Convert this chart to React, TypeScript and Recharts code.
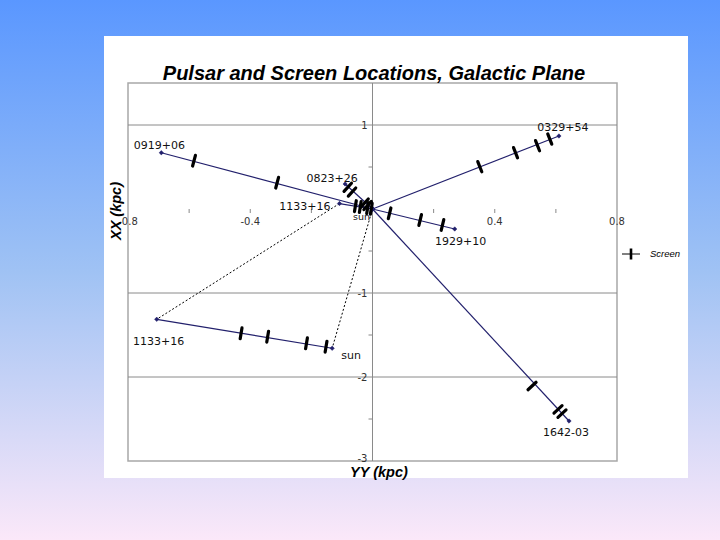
import React from "react";
import {
  ScatterChart,
  Scatter,
  XAxis,
  YAxis,
  ReferenceLine,
  ReferenceArea,
  ReferenceDot,
} from "recharts";

// ---------- data ----------
const sun = { x: 0, y: 0 };

const pulsarNames = ["0919+06", "0823+26", "1133+16", "0329+54", "1929+10", "1642-03"];
const pulsarX = [-0.691, -0.0895, -0.108, 0.61, 0.269, 0.643];
const pulsarY = [0.67, 0.298, 0.065, 0.869, -0.238, -2.524];

const screens0919 = [
  { x: -0.584, y: 0.575 },
  { x: -0.312, y: 0.313 },
];
const screens0823 = [
  { x: -0.081, y: 0.258 },
  { x: -0.067, y: 0.202 },
  { x: -0.026, y: 0.071 },
  { x: -0.016, y: 0.042 },
];
const screens1133 = [
  { x: -0.056, y: 0.034 },
  { x: -0.04, y: 0.024 },
  { x: -0.016, y: 0.01 },
  { x: -0.004, y: 0.002 },
];
const screens0329 = [
  { x: 0.351, y: 0.504 },
  { x: 0.468, y: 0.67 },
  { x: 0.54, y: 0.754 },
  { x: 0.58, y: 0.833 },
];
const screens1929 = [
  { x: 0.056, y: -0.051 },
  { x: 0.156, y: -0.131 },
  { x: 0.229, y: -0.19 },
];
const screens1642 = [
  { x: 0.522, y: -2.107 },
  { x: 0.607, y: -2.385 },
  { x: 0.62, y: -2.436 },
];
const screensByPulsar = [screens0919, screens0823, screens1133, screens0329, screens1929, screens1642];

// enlarged view of the 1133+16 sight line
const insetPulsar = { x: -0.706, y: -1.313 };
const insetSun = { x: -0.132, y: -1.658 };
const insetScreens = [
  { x: -0.43, y: -1.48 },
  { x: -0.343, y: -1.52 },
  { x: -0.216, y: -1.599 },
  { x: -0.152, y: -1.639 },
];

const xTicks = [-0.8, -0.4, 0.4, 0.8];
const xMinorTicks = [-0.6, -0.4, -0.2, 0.2, 0.4, 0.6];
const yTicks = [1, -1, -2, -3];
const yMinorTicks = [0.5, -0.5, -1.5, -2.5];
const yGrid = [1, -1, -2];
const X_DOMAIN: [number, number] = [-0.8, 0.8];
const Y_DOMAIN: [number, number] = [-3, 1.5];

// ---------- layout / style ----------
const CHART_W = 584;
const CHART_H = 442;
const MARGIN = { top: 47, right: 71, bottom: 17, left: 24 };
const PLOT_W = CHART_W - MARGIN.left - MARGIN.right;
const PLOT_H = CHART_H - MARGIN.top - MARGIN.bottom;
const SX = PLOT_W / (X_DOMAIN[1] - X_DOMAIN[0]);
const SY = PLOT_H / (Y_DOMAIN[1] - Y_DOMAIN[0]);

const NAVY = "#22206c";
const LABEL_FONT = "'DejaVu Sans', Verdana, sans-serif";
const TITLE_FONT = "'Liberation Sans', Arial, sans-serif";

const labelOffsets: Record<string, { dx: number; dy: number; anchor: string }> = {
  "0919+06": { dx: -2, dy: -4, anchor: "middle" },
  "0823+26": { dx: -13, dy: -2, anchor: "middle" },
  "1133+16": { dx: -9, dy: 6, anchor: "end" },
  "0329+54": { dx: 4, dy: -5, anchor: "middle" },
  "1929+10": { dx: 6, dy: 16, anchor: "middle" },
  "1642-03": { dx: -3, dy: 15, anchor: "middle" },
};

const Diamond = (props: any) => {
  const { cx, cy } = props;
  if (cx == null || cy == null) return <g />;
  const r = 2.2;
  return (
    <path
      d={`M${cx},${cy - r}L${cx + r},${cy}L${cx},${cy + r}L${cx - r},${cy}Z`}
      fill={NAVY}
      stroke={NAVY}
      strokeWidth={0.5}
    />
  );
};

function makeScreenShape(from: { x: number; y: number }, to: { x: number; y: number }) {
  const dxp = (to.x - from.x) * SX;
  const dyp = -(to.y - from.y) * SY;
  const len = Math.sqrt(dxp * dxp + dyp * dyp) || 1;
  const px = -dyp / len;
  const py = dxp / len;
  const h = 5.5;
  return (props: any) => {
    const { cx, cy } = props;
    if (cx == null || cy == null) return <g />;
    return (
      <line
        x1={cx - px * h}
        y1={cy - py * h}
        x2={cx + px * h}
        y2={cy + py * h}
        stroke="#000"
        strokeWidth={3.2}
        strokeLinecap="round"
      />
    );
  };
}

const textShape = (txt: string, dx: number, dy: number, anchor: string, size: number, fill: string) =>
  (props: any) => {
    const { cx, cy } = props;
    if (cx == null || cy == null) return <g />;
    return (
      <text
        x={cx + dx}
        y={cy + dy}
        textAnchor={anchor as any}
        fontFamily={LABEL_FONT}
        fontSize={size}
        fill={fill}
      >
        {txt}
      </text>
    );
  };

const tickMark = (dx1: number, dy1: number, dx2: number, dy2: number) => (props: any) => {
  const { cx, cy } = props;
  if (cx == null || cy == null) return <g />;
  return <line x1={cx + dx1} y1={cy + dy1} x2={cx + dx2} y2={cy + dy2} stroke="#888" strokeWidth={1} />;
};

export default function App() {
  const pulsars = pulsarNames.map((name, i) => ({ name, x: pulsarX[i], y: pulsarY[i] }));
  const p1133 = pulsars[2];

  return (
    <div
      style={{
        position: "absolute",
        left: 0,
        top: 0,
        width: 720,
        height: 540,
        overflow: "hidden",
        background: "linear-gradient(to bottom, #5a97ff 0%, #9fc2f4 50%, #fbe8f9 100%)",
      }}
    >
      <div
        style={{
          position: "absolute",
          left: 104,
          top: 36,
          width: CHART_W,
          height: CHART_H,
          background: "#ffffff",
        }}
      >
        <ScatterChart width={CHART_W} height={CHART_H} margin={MARGIN}>
          <XAxis type="number" dataKey="x" domain={X_DOMAIN} hide allowDataOverflow />
          <YAxis type="number" dataKey="y" domain={Y_DOMAIN} hide allowDataOverflow />

          {yGrid.map((v) => (
            <ReferenceLine key={"g" + v} y={v} stroke="#8a8a8a" strokeWidth={1} />
          ))}
          <ReferenceLine x={0} stroke="#8a8a8a" strokeWidth={1} />
          <ReferenceArea
            x1={X_DOMAIN[0]}
            x2={X_DOMAIN[1]}
            y1={Y_DOMAIN[0]}
            y2={Y_DOMAIN[1]}
            fill="none"
            stroke="#a8a8a8"
            strokeWidth={1.5}
            fillOpacity={0}
          />

          {xMinorTicks.map((v) => (
            <ReferenceDot key={"xm" + v} x={v} y={0} r={0} shape={tickMark(0, 0, 0, 4)} />
          ))}
          {yMinorTicks.map((v) => (
            <ReferenceDot key={"ym" + v} x={0} y={v} r={0} shape={tickMark(0, 0, -4, 0)} />
          ))}
          {xTicks.map((v) => (
            <ReferenceDot
              key={"xt" + v}
              x={v}
              y={0}
              r={0}
              ifOverflow="visible"
              shape={textShape(String(v), 0, 16, "middle", 10, "#333")}
            />
          ))}
          {yTicks.map((v) => (
            <ReferenceDot
              key={"yt" + v}
              x={0}
              y={v}
              r={0}
              ifOverflow="visible"
              shape={textShape(String(v), -5, v === -3 ? 1 : 4, "end", 10, "#333")}
            />
          ))}

          <ReferenceLine
            segment={[{ x: p1133.x, y: p1133.y }, insetPulsar]}
            stroke="#000"
            strokeWidth={1}
            strokeDasharray="2 2"
          />
          <ReferenceLine segment={[sun, insetSun]} stroke="#000" strokeWidth={1} strokeDasharray="2 2" />

          {pulsars.map((p) => (
            <Scatter
              key={"line" + p.name}
              data={[sun, { x: p.x, y: p.y }]}
              fill={NAVY}
              line={{ stroke: NAVY, strokeWidth: 1.2 }}
              shape={Diamond}
              isAnimationActive={false}
            />
          ))}
          <Scatter
            data={[insetPulsar, insetSun]}
            fill={NAVY}
            line={{ stroke: NAVY, strokeWidth: 1.2 }}
            shape={Diamond}
            isAnimationActive={false}
          />

          {screensByPulsar.map((arr, i) => (
            <Scatter
              key={"scr" + i}
              name="Screen"
              data={arr}
              shape={makeScreenShape(sun, pulsars[i])}
              isAnimationActive={false}
            />
          ))}
          <Scatter
            name="Screen"
            data={insetScreens}
            shape={makeScreenShape(insetPulsar, insetSun)}
            isAnimationActive={false}
          />

          {pulsars.map((p) => {
            const o = labelOffsets[p.name];
            return (
              <ReferenceDot
                key={"lab" + p.name}
                x={p.x}
                y={p.y}
                r={0}
                ifOverflow="visible"
                shape={textShape(p.name, o.dx, o.dy, o.anchor, 11, "#111")}
              />
            );
          })}
          <ReferenceDot x={sun.x} y={sun.y} r={0} shape={textShape("sun", -11, 11, "middle", 9.5, "#111")} />
          <ReferenceDot
            x={insetPulsar.x}
            y={insetPulsar.y}
            r={0}
            shape={textShape(pulsarNames[2], 2, 26, "middle", 11, "#111")}
          />
          <ReferenceDot x={insetSun.x} y={insetSun.y} r={0} shape={textShape("sun", 19, 11, "middle", 11, "#111")} />
        </ScatterChart>
      </div>

      <svg
        width={720}
        height={540}
        style={{ position: "absolute", left: 0, top: 0, pointerEvents: "none" }}
      >
        <text
          x={374}
          y={80}
          textAnchor="middle"
          fontFamily={TITLE_FONT}
          fontWeight="bold"
          fontStyle="italic"
          fontSize={20}
          fill="#000"
        >
          Pulsar and Screen Locations, Galactic Plane
        </text>
        <text
          x={121}
          y={211}
          transform="rotate(-90 121 211)"
          textAnchor="middle"
          fontFamily={TITLE_FONT}
          fontWeight="bold"
          fontStyle="italic"
          fontSize={14.5}
          fill="#000"
        >
          XX (kpc)
        </text>
        <text
          x={379}
          y={477}
          textAnchor="middle"
          fontFamily={TITLE_FONT}
          fontWeight="bold"
          fontStyle="italic"
          fontSize={14.5}
          fill="#000"
        >
          YY (kpc)
        </text>
        <line x1={622} y1={254} x2={640} y2={254} stroke="#000" strokeWidth={1} />
        <line x1={631} y1={248.5} x2={631} y2={259.5} stroke="#000" strokeWidth={2.6} />
        <text x={650} y={257} fontFamily={TITLE_FONT} fontStyle="italic" fontSize={9.5} fill="#000">
          Screen
        </text>
      </svg>
    </div>
  );
}
